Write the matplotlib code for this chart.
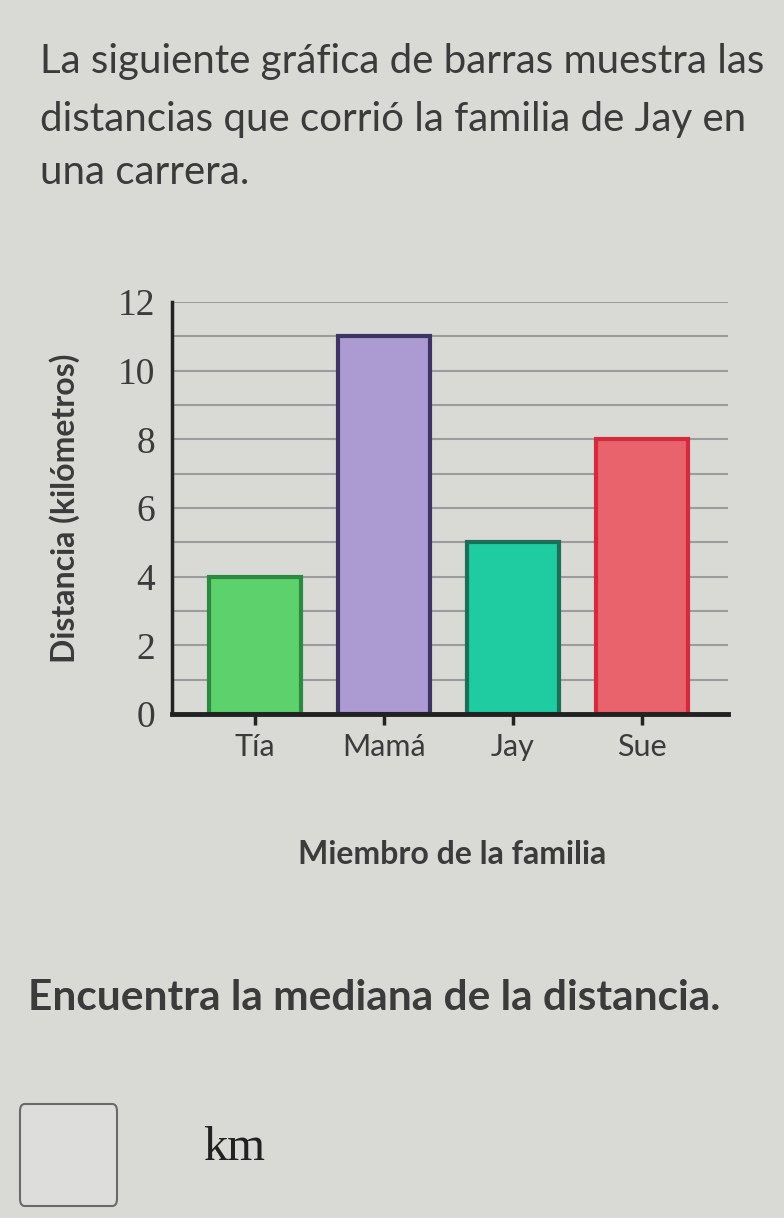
import matplotlib.pyplot as plt
from matplotlib.patches import FancyBboxPatch

miembros = ['Tía', 'Mamá', 'Jay', 'Sue']
distancias = [4, 11, 5, 8]
colores = ['#5dd16c', '#ab9bd2', '#1fcba0', '#e8636c']
bordes = ['#2c8a40', '#3e3461', '#1b6e57', '#d32b3b']
yticks = [0, 2, 4, 6, 8, 10, 12]

bg = '#d9d9d6'
texto = '#3b3b3b'

fig = plt.figure(figsize=(7.84, 12.18), dpi=100, facecolor=bg)

# enunciado
fig.text(40/784, 1 - 62/1218, 'La siguiente gráfica de barras muestra las',
         family='Lato', fontsize=29, color=texto, va='center')
fig.text(40/784, 1 - 120/1218, 'distancias que corrió la familia de Jay en',
         family='Lato', fontsize=29, color=texto, va='center')
fig.text(40/784, 1 - 172/1218, 'una carrera.',
         family='Lato', fontsize=29, color=texto, va='center')

ax = fig.add_axes([172/784, 1 - 714/1218, 556/784, 412/1218])
ax.set_facecolor(bg)
x = range(len(miembros))
ax.bar(x, distancias, width=0.71, color=colores, edgecolor=bordes,
       linewidth=3, zorder=3)

ax.set_xlim(-0.643, 3.667)
ax.set_ylim(0, 12)
ax.set_yticks(yticks)
ax.set_yticks(range(1, 13), minor=True)
ax.yaxis.grid(True, which='both', color='#9c9c9c', linewidth=1.5, zorder=0)
ax.set_axisbelow(True)
for lbl in ['top', 'right']:
    ax.spines[lbl].set_visible(False)
ax.spines['left'].set_linewidth(2.5)
ax.spines['bottom'].set_linewidth(3.5)
ax.spines['left'].set_color('#222222')
ax.spines['bottom'].set_color('#222222')
ax.spines['left'].set_zorder(4)
ax.spines['bottom'].set_zorder(4)
ax.tick_params(axis='y', which='both', length=0, pad=12)
ax.tick_params(axis='x', length=8, width=2.5, color='#222222', pad=6)
ax.set_yticklabels([str(v) for v in yticks], family='Liberation Serif',
                   fontsize=27, color=texto)
ax.set_xticks(list(x))
ax.set_xticklabels(miembros, family='Lato', fontsize=22, color=texto)

ax.set_ylabel('Distancia (kilómetros)', family='Lato', fontsize=23,
              fontweight='bold', color=texto)
ax.yaxis.set_label_coords(-0.165, 0.5)

fig.text(452/784, 1 - 855/1218, 'Miembro de la familia', family='Lato',
         fontsize=23, fontweight='bold', color=texto, ha='center', va='center')

fig.text(28/784, 1 - 998/1218, 'Encuentra la mediana de la distancia.',
         family='Lato', fontsize=30.5, fontweight='bold', color=texto,
         va='center')

caja = FancyBboxPatch((20/784, 1 - 1206/1218), 97/784, 102/1218,
                      boxstyle='round,pad=0,rounding_size=0.006',
                      transform=fig.transFigure, facecolor='#dddddb',
                      edgecolor='#6a6a6a', linewidth=1.5)
fig.add_artist(caja)
fig.text(203/784, 1 - 1148/1218, 'km', family='Liberation Serif', fontsize=35,
         color='#222222', va='center')

fig.savefig('out.png', dpi=100, facecolor=bg)
